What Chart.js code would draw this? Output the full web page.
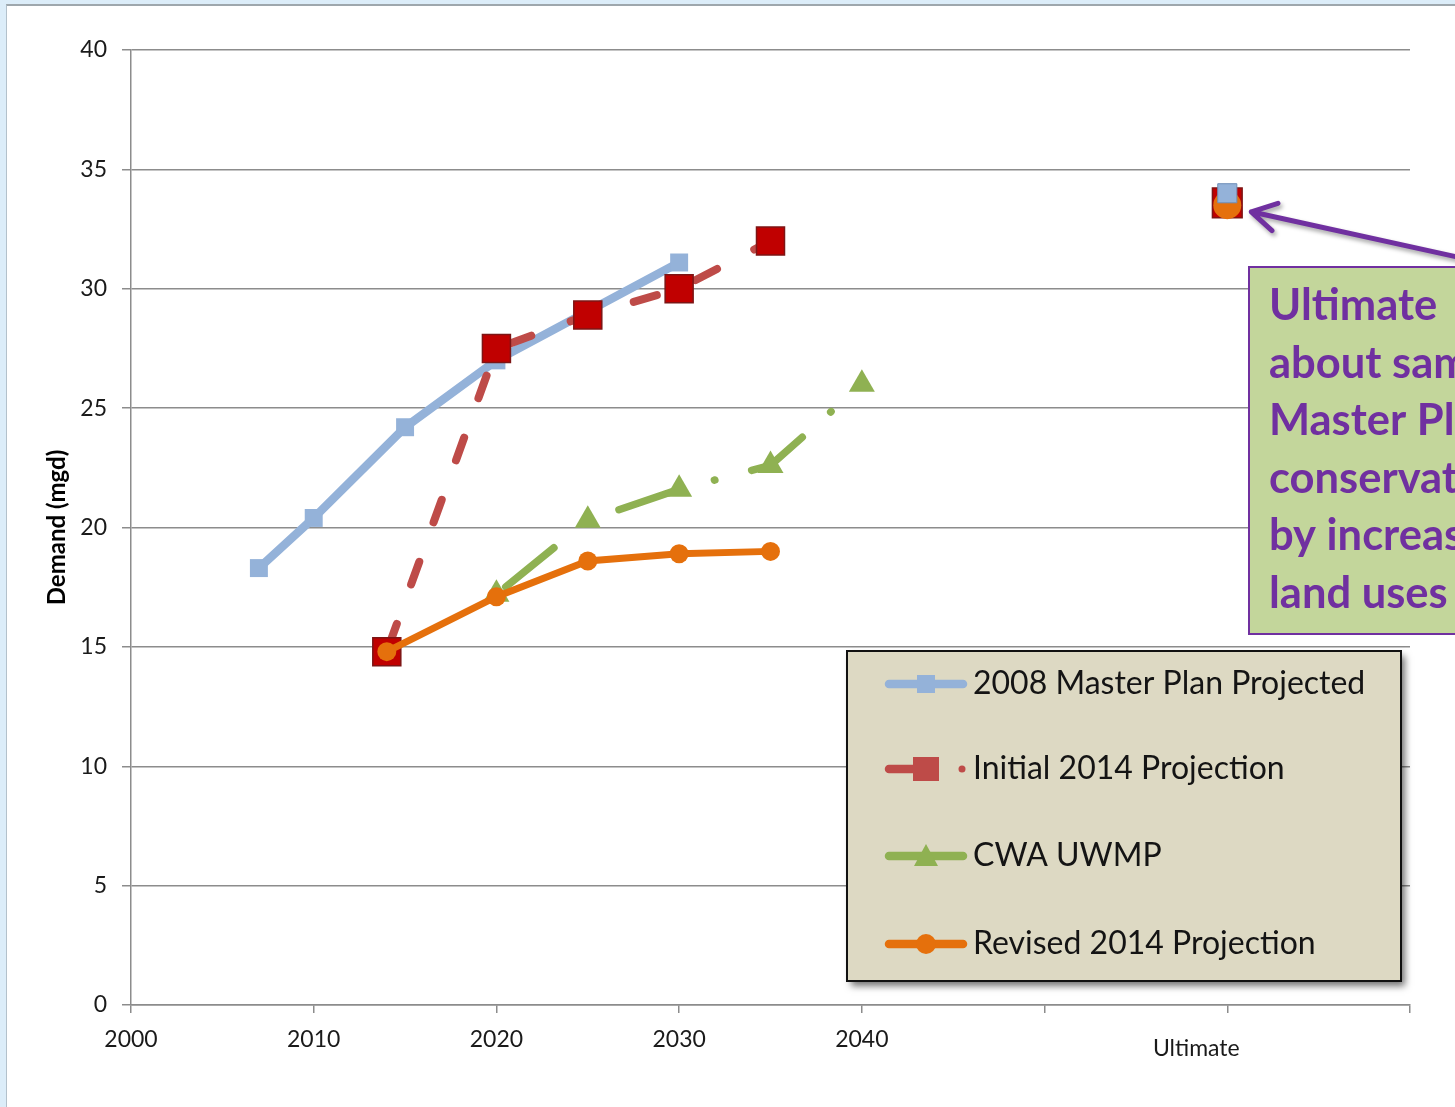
<!DOCTYPE html>
<html>
<head>
<meta charset="utf-8">
<script src="https://cdn.jsdelivr.net/npm/chart.js@4.4.1/dist/chart.umd.min.js"></script>
<style>
  html, body { margin: 0; padding: 0; width: 1455px; height: 1107px; overflow: hidden; background: #dcedf9; }
  #sheet { position: absolute; left: 6px; top: 4px; width: 1470px; height: 1120px; background: #ffffff;
           border-left: 1px solid #b3c1cb; border-top: 2px solid #9ea7ad; }
  #chart { position: absolute; left: 0; top: 0; }
</style>
</head>
<body>
<div id="sheet"></div>
<canvas id="chart" width="1455" height="1107" style="width:1455px;height:1107px"></canvas>
<script>
// ---- data (demand in mgd) ----
const masterYears   = [2007, 2010, 2015, 2020, 2030];
const masterValues  = [18.3, 20.4, 24.2, 27.0, 31.1];
const initialYears  = [2014, 2020, 2025, 2030, 2035];
const initialValues = [14.8, 27.5, 28.9, 30.0, 32.0];
const cwaYears      = [2020, 2025, 2030, 2035, 2040];
const cwaValues     = [17.2, 20.3, 21.6, 22.6, 26.0];
const revisedYears  = [2014, 2020, 2025, 2030, 2035];
const revisedValues = [14.8, 17.1, 18.6, 18.9, 19.0];

// "Ultimate" build-out demand, plotted at the far slot of the year axis
const ultimateYear   = 2060;
const ultimateSeries = ['master', 'initial', 'revised'];
const ultimateValues = [34.0, 33.6, 33.5];

const seriesNames = ['2008 Master Plan Projected', 'Initial 2014 Projection', 'CWA UWMP', 'Revised 2014 Projection'];
const xTickYears  = [2000, 2010, 2020, 2030, 2040, 2050, 2060, 2070];
const xTickLabels = ['2000', '2010', '2020', '2030', '2040', '', '', ''];
const ultimateLabel = 'Ultimate';
const yTitle = 'Demand (mgd)';
const noteLines = ['Ultimate  demand', 'about same as 2008', 'Master Plan;', 'conservation offset', 'by increased density', 'land uses'];

// ---- styling ----
const BLUE = '#94b2d9';
const RED_LINE = '#be4b48';
const RED_MARK = '#c00000';
const RED_EDGE = '#7d1515';
const GREEN = '#8fb152';
const ORANGE = '#e5700c';
const GRID = '#8c8c8c';
const PURPLE = '#7030a0';
const FONT = 'Lato';

const pts = (xs, ys) => xs.map((x, i) => ({ x, y: ys[i] }));
const ultimatePoint = key => [{ x: ultimateYear, y: ultimateValues[ultimateSeries.indexOf(key)] }];

const datasets = [
  { label: seriesNames[0], data: pts(masterYears, masterValues), borderColor: BLUE, backgroundColor: BLUE,
    borderWidth: 8.5, pointStyle: 'rect', pointRadius: 12.7, pointBorderWidth: 0, order: 6 },
  { label: seriesNames[1], data: pts(initialYears, initialValues), borderColor: RED_LINE, backgroundColor: RED_MARK,
    borderWidth: 8, borderDash: [24, 42], borderCapStyle: 'round', borderDashOffset: -5.5,
    pointStyle: 'rect', pointRadius: 19.8, pointBorderColor: RED_EDGE, pointBorderWidth: 1.5, order: 5 },
  { label: seriesNames[2], data: pts(cwaYears, cwaValues), borderColor: GREEN, backgroundColor: GREEN,
    borderWidth: 7.5, borderDash: [62, 38, 0.5, 38], borderCapStyle: 'round', borderDashOffset: -12,
    pointStyle: 'triangle', pointRadius: 15, pointBorderWidth: 0, order: 4 },
  { label: seriesNames[3], data: pts(revisedYears, revisedValues), borderColor: ORANGE, backgroundColor: ORANGE,
    borderWidth: 7, pointStyle: 'circle', pointRadius: 9.5, pointBorderWidth: 0, order: 3 },
  // ultimate markers: red square underneath, orange circle, blue square on top
  { label: 'u-initial', data: ultimatePoint('initial'), showLine: false, backgroundColor: RED_MARK,
    pointStyle: 'rect', pointRadius: 21, pointBorderColor: RED_EDGE, pointBorderWidth: 1.5, order: 2 },
  { label: 'u-revised', data: ultimatePoint('revised'), showLine: false, backgroundColor: ORANGE,
    pointStyle: 'circle', pointRadius: 14, pointBorderWidth: 0, order: 1 },
  { label: 'u-master', data: ultimatePoint('master'), showLine: false, backgroundColor: BLUE,
    pointStyle: 'rect', pointRadius: 13.5, pointBorderColor: '#6f8fb8', pointBorderWidth: 1, order: 0 }
];

// legend panel, drawn inside the plot
const legendPlugin = {
  id: 'boxLegend',
  afterDraw(chart) {
    const ctx = chart.ctx;
    const bx = 847, by = 651, bw = 554, bh = 330;
    ctx.save();
    ctx.shadowColor = 'rgba(0,0,0,0.55)';
    ctx.shadowBlur = 7; ctx.shadowOffsetX = 4; ctx.shadowOffsetY = 5;
    ctx.fillStyle = '#ddd9c3';
    ctx.fillRect(bx, by, bw, bh);
    ctx.restore();
    ctx.save();
    ctx.strokeStyle = '#111'; ctx.lineWidth = 2;
    ctx.strokeRect(bx, by, bw, bh);

    const rows = [684, 769, 856, 944];
    const x0 = 889, x1 = 963, mx = 926;
    ctx.lineCap = 'round';
    // 2008 master plan
    ctx.strokeStyle = BLUE; ctx.lineWidth = 8.5;
    ctx.beginPath(); ctx.moveTo(x0, rows[0]); ctx.lineTo(x1, rows[0]); ctx.stroke();
    ctx.fillStyle = BLUE; ctx.fillRect(mx - 9, rows[0] - 9, 18, 18);
    // initial 2014 (dashed)
    ctx.strokeStyle = RED_LINE;
    ctx.beginPath(); ctx.moveTo(x0, rows[1]); ctx.lineTo(932, rows[1]); ctx.stroke();
    ctx.fillStyle = RED_LINE; ctx.fillRect(mx - 13, rows[1] - 12, 26, 24);
    ctx.beginPath(); ctx.arc(962, rows[1], 3.5, 0, Math.PI * 2); ctx.fill();
    // CWA UWMP
    ctx.strokeStyle = GREEN;
    ctx.beginPath(); ctx.moveTo(x0, rows[2]); ctx.lineTo(x1, rows[2]); ctx.stroke();
    ctx.fillStyle = GREEN;
    ctx.beginPath(); ctx.moveTo(mx, rows[2] - 12); ctx.lineTo(mx + 12, rows[2] + 10); ctx.lineTo(mx - 12, rows[2] + 10); ctx.closePath(); ctx.fill();
    // revised 2014
    ctx.strokeStyle = ORANGE;
    ctx.beginPath(); ctx.moveTo(x0, rows[3]); ctx.lineTo(x1, rows[3]); ctx.stroke();
    ctx.fillStyle = ORANGE;
    ctx.beginPath(); ctx.arc(mx, rows[3], 10, 0, Math.PI * 2); ctx.fill();

    ctx.fillStyle = '#141414';
    ctx.font = '32px ' + FONT;
    ctx.textBaseline = 'middle';
    seriesNames.forEach((name, i) => ctx.fillText(name, 973, rows[i]));
    ctx.restore();
  }
};

// callout box and arrow pointing at the ultimate markers
const notePlugin = {
  id: 'note',
  afterDraw(chart) {
    const ctx = chart.ctx;
    const xs = chart.scales.x, ys = chart.scales.y;
    const ux = xs.getPixelForValue(ultimateYear);
    const uy = ys.getPixelForValue(ultimateValues[ultimateSeries.indexOf('initial')]);

    // "Ultimate" category label under the axis
    ctx.save();
    ctx.fillStyle = '#1a1a1a';
    ctx.font = '23px ' + FONT;
    ctx.textAlign = 'center'; ctx.textBaseline = 'middle';
    ctx.fillText(ultimateLabel, ux - 31, 1049);
    ctx.restore();

    // text box
    ctx.save();
    ctx.fillStyle = '#c3d69b';
    ctx.fillRect(1249, 267, 240, 367);
    ctx.strokeStyle = PURPLE; ctx.lineWidth = 2;
    ctx.strokeRect(1249, 267, 240, 367);
    ctx.fillStyle = PURPLE;
    ctx.font = 'bold 43.5px ' + FONT;
    ctx.textBaseline = 'alphabetic';
    noteLines.forEach((t, i) => ctx.fillText(t, 1269, 320 + i * 57.6));
    ctx.restore();

    // arrow
    const tipX = ux + 24, tipY = uy + 9;
    const tailX = 1462, tailY = 258;
    const ang = Math.atan2(tailY - tipY, tailX - tipX);
    const wing = 28, spread = Math.PI / 6;
    ctx.save();
    ctx.shadowColor = 'rgba(0,0,0,0.35)';
    ctx.shadowBlur = 4; ctx.shadowOffsetX = 2; ctx.shadowOffsetY = 3;
    ctx.strokeStyle = PURPLE; ctx.lineWidth = 5; ctx.lineCap = 'round'; ctx.lineJoin = 'round';
    ctx.beginPath();
    ctx.moveTo(tailX, tailY); ctx.lineTo(tipX, tipY);
    ctx.moveTo(tipX + wing * Math.cos(ang - spread), tipY + wing * Math.sin(ang - spread));
    ctx.lineTo(tipX, tipY);
    ctx.lineTo(tipX + wing * Math.cos(ang + spread), tipY + wing * Math.sin(ang + spread));
    ctx.stroke();
    ctx.restore();
  }
};

new Chart(document.getElementById('chart'), {
  type: 'line',
  data: { datasets },
  options: {
    responsive: false,
    animation: false,
    events: [],
    layout: { padding: { left: 0, top: 50, right: 45, bottom: 42 } },
    plugins: { legend: { display: false }, tooltip: { enabled: false } },
    scales: {
      x: {
        type: 'linear', min: 2000, max: 2070,
        afterBuildTicks: s => { s.ticks = xTickYears.map(v => ({ value: v })); },
        ticks: {
          autoSkip: false, maxRotation: 0, padding: 13, color: '#1a1a1a',
          font: { family: FONT, size: 23 },
          callback: v => xTickLabels[xTickYears.indexOf(v)] ?? ''
        },
        grid: { drawOnChartArea: false, drawTicks: true, tickLength: 8, color: GRID, lineWidth: 1.5 },
        border: { display: true, color: GRID, width: 1.5 },
        afterFit: s => { s.height = 60; }
      },
      y: {
        min: 0, max: 40,
        ticks: { stepSize: 5, padding: 15, color: '#1a1a1a', font: { family: FONT, size: 23 } },
        grid: { color: GRID, lineWidth: 1.5, tickLength: 9 },
        border: { display: true, color: GRID, width: 1.5 },
        title: { display: true, text: yTitle, color: '#000', font: { family: FONT, size: 24, weight: 'bold' },
                 padding: { top: 43, bottom: 0 } },
        afterFit: s => { s.width = 131; }
      }
    }
  },
  plugins: [legendPlugin, notePlugin]
});
</script>
</body>
</html>
